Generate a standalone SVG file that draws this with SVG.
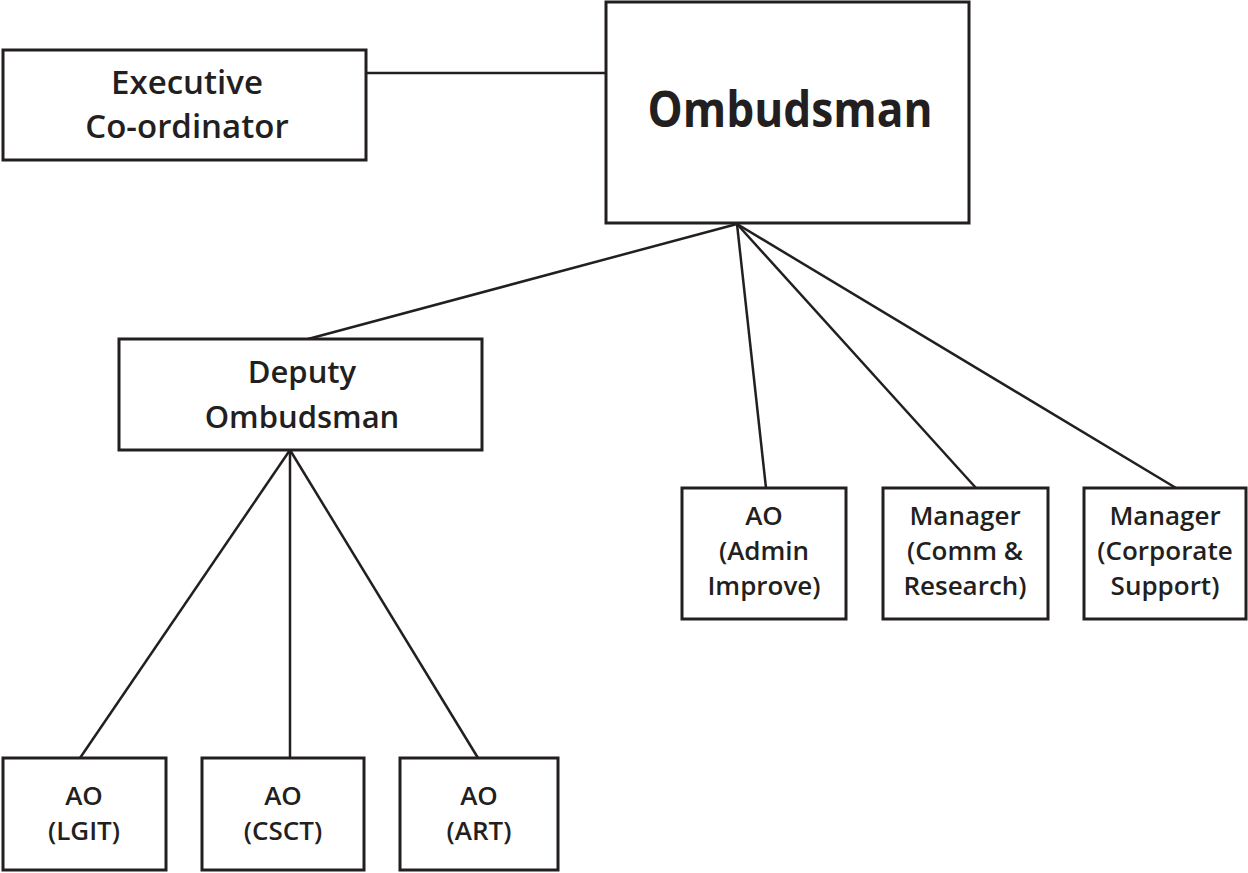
<svg xmlns="http://www.w3.org/2000/svg" width="1248" height="873" viewBox="0 0 1248 873">
<style>
  .box { fill: #ffffff; stroke: #231f20; stroke-width: 3; }
  .conn line { stroke: #231f20; stroke-width: 2.5; }
  text { font-family: "Open Sans", "Noto Sans", sans-serif; fill: #231f20; text-anchor: middle; font-weight: 600; }
  .big { font-size: 33px; }
  .mid { font-size: 31px; }
  .sm { font-size: 26px; }
  .title { font-size: 50px; font-weight: 700; }
</style>
<rect width="1248" height="873" fill="#ffffff"/>
<g id="connectors" class="conn">
  <line x1="366" y1="73" x2="606" y2="73"/>
  <line x1="737" y1="224" x2="308" y2="339"/>
  <line x1="737" y1="224" x2="766" y2="488"/>
  <line x1="737" y1="224" x2="976" y2="488"/>
  <line x1="737" y1="224" x2="1176" y2="488"/>
  <line x1="290" y1="450" x2="80" y2="758"/>
  <line x1="290" y1="450" x2="290" y2="758"/>
  <line x1="290" y1="450" x2="478" y2="758"/>
</g>
<g id="executive">
  <rect class="box" x="3" y="50" width="363" height="110"/>
  <text class="big" x="187" y="94">Executive</text>
  <text class="big" x="187" y="138">Co-ordinator</text>
</g>
<g id="ombudsman">
  <rect class="box" x="606" y="2" width="363" height="221"/>
  <text class="title" x="790" y="127" textLength="285" lengthAdjust="spacingAndGlyphs">Ombudsman</text>
</g>
<g id="deputy">
  <rect class="box" x="119" y="339" width="363" height="111"/>
  <text class="mid" x="302" y="383">Deputy</text>
  <text class="mid" x="302" y="428">Ombudsman</text>
</g>
<g id="ao-admin">
  <rect class="box" x="682" y="488" width="164" height="131"/>
  <text class="sm" x="764" y="525">AO</text>
  <text class="sm" x="764" y="560">(Admin</text>
  <text class="sm" x="764" y="595">Improve)</text>
</g>
<g id="manager-comm">
  <rect class="box" x="883" y="488" width="165" height="131"/>
  <text class="sm" x="965" y="525">Manager</text>
  <text class="sm" x="965" y="560">(Comm &amp;</text>
  <text class="sm" x="965" y="595">Research)</text>
</g>
<g id="manager-corp">
  <rect class="box" x="1084" y="488" width="162" height="131"/>
  <text class="sm" x="1165" y="525">Manager</text>
  <text class="sm" x="1165" y="560">(Corporate</text>
  <text class="sm" x="1165" y="595">Support)</text>
</g>
<g id="ao-lgit">
  <rect class="box" x="3" y="758" width="163" height="112"/>
  <text class="sm" x="84" y="805">AO</text>
  <text class="sm" x="84" y="840">(LGIT)</text>
</g>
<g id="ao-csct">
  <rect class="box" x="202" y="758" width="162" height="112"/>
  <text class="sm" x="283" y="805">AO</text>
  <text class="sm" x="283" y="840">(CSCT)</text>
</g>
<g id="ao-art">
  <rect class="box" x="400" y="758" width="158" height="112"/>
  <text class="sm" x="479" y="805">AO</text>
  <text class="sm" x="479" y="840">(ART)</text>
</g>
</svg>
